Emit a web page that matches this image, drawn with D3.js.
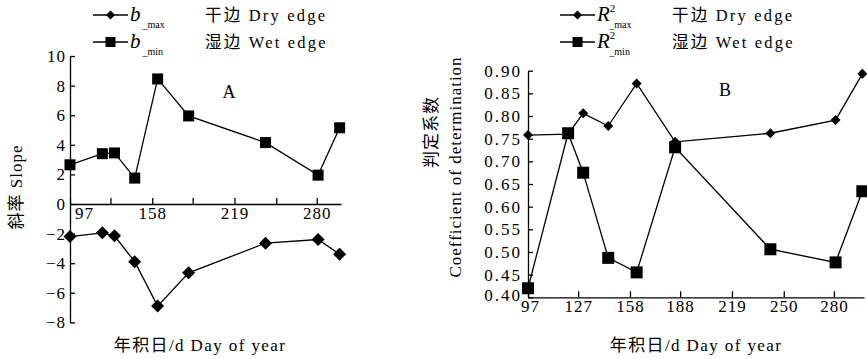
<!DOCTYPE html>
<html>
<head>
<meta charset="utf-8">
<script src="https://cdn.jsdelivr.net/npm/d3@7"></script>
<style>
  body { margin: 0; background: #fff; }
  svg text { font-family: "Liberation Serif", "Noto Sans CJK SC", serif; fill: #000; }
</style>
</head>
<body>
<svg id="chart" width="867" height="359"></svg>
<script>
// day of year of each observation
const days = [97, 121, 130, 145, 162, 185, 242, 281, 297];
// panel A: slope of dry edge (b_max) and wet edge (b_min)
const slopeDry = [-2.2, -1.95, -2.15, -3.9, -6.9, -4.65, -2.65, -2.4, -3.4];
const slopeWet = [2.65, 3.4, 3.45, 1.75, 8.45, 5.95, 4.15, 1.95, 5.15];
// panel B: coefficient of determination
const r2Dry = [0.758, 0.76, 0.806, 0.778, 0.872, 0.743, 0.762, 0.791, 0.893];
const r2Wet = [0.42, 0.762, 0.675, 0.487, 0.455, 0.731, 0.506, 0.477, 0.634];

const dayTicks = [97, 127, 158, 188, 219, 250, 280];
const dayLabelsA = [97, 158, 219, 280];
const slopeTicks = [-8, -6, -4, -2, 0, 2, 4, 6, 8, 10];
const r2Ticks = [0.40, 0.45, 0.50, 0.55, 0.60, 0.65, 0.70, 0.75, 0.80, 0.85, 0.90];

const svg = d3.select("#chart");

function diamond(g, x, y, s) {
  g.append("path")
    .attr("d", d3.symbol(d3.symbolSquare, s * s / 2)())
    .attr("transform", "translate(" + x + "," + y + ") rotate(45)")
    .attr("fill", "#000");
}
function square(g, x, y, s) {
  g.append("rect")
    .attr("x", x - s / 2).attr("y", y - s / 2)
    .attr("width", s).attr("height", s)
    .attr("fill", "#000");
}

function drawSeries(g, x, y, vals, kind, size) {
  let pts = days.map((d, i) => [x(d), y(vals[i])]);
  g.append("path")
    .datum(pts)
    .attr("fill", "none")
    .attr("stroke", "#000")
    .attr("stroke-width", 1.3)
    .attr("d", d3.line());
  pts.forEach(p => kind == "d" ? diamond(g, p[0], p[1], size) : square(g, p[0], p[1], size));
}

function legend(g, x0, y0, sym, sub, sup, cn, en, kind) {
  g.append("line")
    .attr("x1", x0).attr("x2", x0 + 35).attr("y1", y0).attr("y2", y0)
    .attr("stroke", "#000").attr("stroke-width", 1.5);
  kind == "d" ? diamond(g, x0 + 17.5, y0, 9) : square(g, x0 + 17.5, y0, 10);
  let t = g.append("text").attr("x", x0 + 37).attr("y", y0 + 6);
  t.append("tspan").attr("font-style", "italic").attr("font-size", 21).text(sym);
  if (sup) t.append("tspan").attr("font-size", 11).attr("dy", -9).text(sup);
  t.append("tspan").attr("font-size", 10).attr("dy", sup ? 16 : 7).attr("dx", sup ? -6 : 2).text(sub);
  g.append("text")
    .attr("x", x0 + 112).attr("y", y0 + 6)
    .attr("font-size", 16.5).attr("letter-spacing", 2.2)
    .text(cn + " " + en);
}

// ---------- Panel A ----------
{
  let x = d3.scaleLinear().domain([97, 298]).range([70, 341]);
  let y = d3.scaleLinear().domain([-8, 10]).range([322.4, 56]);
  let g = svg.append("g");

  let yAxis = d3.axisLeft(y).tickValues(slopeTicks).tickSize(-5).tickSizeOuter(0).tickPadding(4)
    .tickFormat(d3.format("d"));
  let ya = g.append("g").attr("transform", "translate(70,0)").call(yAxis);

  let xAxis = d3.axisBottom(x).tickValues(dayTicks).tickSize(-6).tickSizeOuter(0).tickPadding(3)
    .tickFormat(d => dayLabelsA.includes(d) ? d : "");
  let xa = g.append("g").attr("transform", "translate(0," + y(0) + ")").call(xAxis);
  xa.selectAll(".tick text").filter(d => d == 97).attr("dx", 14);

  [ya, xa].forEach(a => {
    a.selectAll("path, line").attr("stroke", "#000").attr("stroke-width", 1.3);
    a.selectAll("text").attr("font-size", 17).attr("font-family", "Liberation Serif").attr("letter-spacing", 1);
  });

  drawSeries(g, x, y, slopeWet, "s", 11);
  drawSeries(g, x, y, slopeDry, "d", 13);

  g.append("text").attr("x", 229).attr("y", 98).attr("font-size", 18).attr("text-anchor", "middle").text("A");
  g.append("text").attr("x", 200).attr("y", 351).attr("font-size", 17).attr("letter-spacing", 1.4)
    .attr("text-anchor", "middle").text("年积日/d Day of year");
  g.append("text").attr("transform", "translate(22,187) rotate(-90)").attr("font-size", 17)
    .attr("letter-spacing", 1).attr("text-anchor", "middle").text("斜率 Slope");

  legend(g, 93, 15, "b", "_max", null, "干边", "Dry edge", "d");
  legend(g, 93, 42, "b", "_min", null, "湿边", "Wet edge", "s");
}

// ---------- Panel B ----------
{
  let x = d3.scaleLinear().domain([97, 298]).range([528, 864]);
  let y = d3.scaleLinear().domain([0.40, 0.90]).range([297.3, 70.7]);
  let g = svg.append("g");

  let yAxis = d3.axisLeft(y).tickValues(r2Ticks).tickSize(-5).tickSizeOuter(0).tickPadding(6)
    .tickFormat(d3.format(".2f"));
  let ya = g.append("g").attr("transform", "translate(528,0)").call(yAxis);

  let xAxis = d3.axisBottom(x).tickValues(dayTicks).tickSize(-6).tickSizeOuter(0).tickPadding(3)
    .tickFormat(d3.format("d"));
  let xa = g.append("g").attr("transform", "translate(0," + y(0.40) + ")").call(xAxis);

  [ya, xa].forEach(a => {
    a.selectAll("path, line").attr("stroke", "#000").attr("stroke-width", 1.3);
    a.selectAll("text").attr("font-size", 17).attr("font-family", "Liberation Serif").attr("letter-spacing", 1);
  });
  ya.selectAll("text").attr("letter-spacing", 2);
  ya.selectAll(".tick text").filter(d => d == 0.40).attr("dy", "0.2em");
  xa.selectAll(".tick text").filter(d => d == 97).attr("dx", 2);

  drawSeries(g, x, y, r2Wet, "s", 12);
  drawSeries(g, x, y, r2Dry, "d", 10);

  g.append("text").attr("x", 725).attr("y", 96).attr("font-size", 18).attr("text-anchor", "middle").text("B");
  g.append("text").attr("x", 696).attr("y", 351).attr("font-size", 17).attr("letter-spacing", 1.4)
    .attr("text-anchor", "middle").text("年积日/d Day of year");
  g.append("text").attr("transform", "translate(461,167) rotate(-90)").attr("font-size", 17)
    .attr("letter-spacing", 1).attr("text-anchor", "middle").text("Coefficient of determination");
  g.append("text").attr("transform", "translate(437,132) rotate(-90)").attr("font-size", 17)
    .attr("letter-spacing", 1).attr("text-anchor", "middle").text("判定系数");

  legend(g, 560, 15, "R", "_max", "2", "干边", "Dry edge", "d");
  legend(g, 560, 42, "R", "_min", "2", "湿边", "Wet edge", "s");
}
</script>
</body>
</html>
